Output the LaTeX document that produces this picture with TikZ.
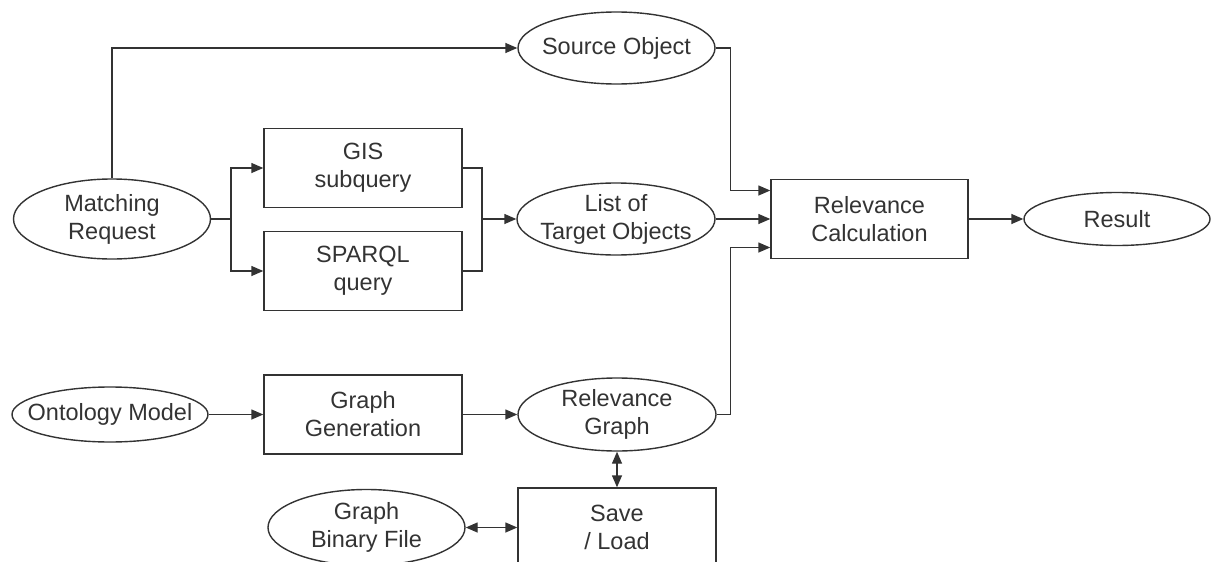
\documentclass[tikz,border=0pt]{standalone}
\usepackage{fontspec}
\setmainfont{Liberation Sans}
\usetikzlibrary{arrows.meta}
\usetikzlibrary{shapes.geometric}
\definecolor{mgrey}{rgb}{0.2, 0.2, 0.2}

\begin{document}
\begin{tikzpicture}[x=0.5pt, y=-0.5pt,
    every node/.style={font=\fontsize{11.75}{14}\selectfont, text=mgrey, align=center},
    blk/.style={draw=mgrey, line width=0.7pt, minimum width=99pt, minimum height=39.5pt, inner sep=0pt},
    ell/.style={draw=mgrey, line width=0.7pt, ellipse, inner xsep=-8pt, inner ysep=-2pt},
    con/.style={draw=mgrey, line width=0.7pt, -{Triangle[length=6pt, width=5pt]}},
    dcon/.style={draw=mgrey, line width=0.7pt, {Triangle[length=6pt, width=5pt]}-{Triangle[length=6pt, width=5pt]}}]
  \useasboundingbox (0, 0) rectangle (1211, 562);

  \node [ell, minimum width=98.5pt, minimum height=40pt] (req) at (112, 219) {Matching\\Request};
  \node [ell, minimum width=98.5pt, minimum height=36pt] (src) at (616.5, 48) {Source Object};
  \node [blk] (gis) at (363, 168) {GIS\\subquery};
  \node [blk] (sparql) at (363, 271) {SPARQL\\query};
  \node [ell, minimum width=99pt, minimum height=36pt] (list) at (616, 219) {List of\\Target Objects};
  \node [blk, minimum width=98.5pt] (calc) at (869.5, 219) {Relevance\\Calculation};
  \node [ell, minimum width=93pt, minimum height=26.5pt] (res) at (1117, 219) {Result};

  \node [ell, minimum width=98pt, minimum height=27.5pt] (onto) at (110, 414.5) {Ontology Model};
  \node [blk] (gen) at (363, 414.5) {Graph\\Generation};
  \node [ell, minimum width=99pt, minimum height=36.5pt] (rg) at (617, 414.5) {Relevance\\Graph};
  \node [blk] (sl) at (617, 527.5) {Save\\/ Load};
  \node [ell, minimum width=98.5pt, minimum height=38pt] (bin) at (366.5, 527.5) {Graph\\Binary File};

  \coordinate (fork) at (231, 219);
  \coordinate (join) at (482, 219);

  \draw [con] (req.north) |- (src.west);
  \draw [draw=mgrey, line width=0.7pt] (req.east) -- (fork);
  \draw [con] (fork) |- (gis.west);
  \draw [con] (fork) |- (sparql.west);
  \draw [draw=mgrey, line width=0.7pt] (gis.east) -| (join);
  \draw [draw=mgrey, line width=0.7pt] (sparql.east) -| (join);
  \draw [con] (join) -- (list.west);

  \draw [con] (src.east) -- ++(15, 0) |- ([yshift=14.25pt]calc.west);
  \draw [con] (list.east) -- (calc.west);
  \draw [con] (rg.east) -- ++(14, 0) |- ([yshift=-14.25pt]calc.west);
  \draw [con] (calc.east) -- (res.west);

  \draw [con] (onto.east) -- (gen.west);
  \draw [con] (gen.east) -- (rg.west);
  \draw [dcon] (rg.south) -- (sl.north);
  \draw [dcon] (bin.east) -- (sl.west);
\end{tikzpicture}
\end{document}
